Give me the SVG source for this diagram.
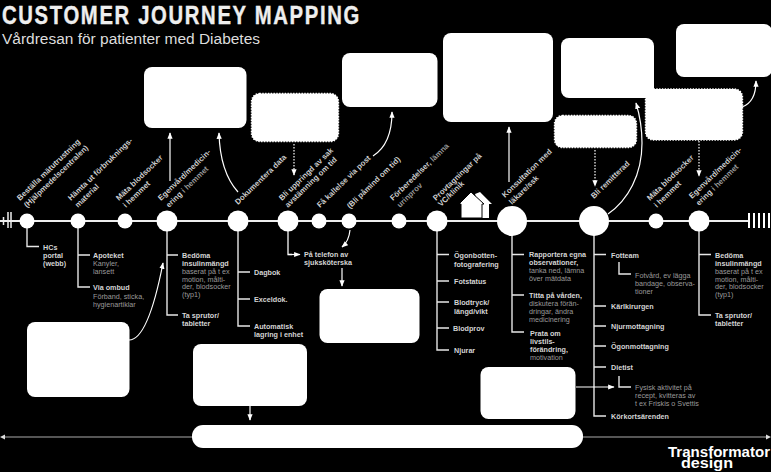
<svg xmlns="http://www.w3.org/2000/svg" width="771" height="472" viewBox="0 0 771 472">
<defs>
<marker id="ah" viewBox="0 0 10 10" refX="9" refY="5" markerWidth="6.500" markerHeight="6.500" markerUnits="userSpaceOnUse" orient="auto"><path d="M0 1L10 5L0 9Z" fill="#fff"/></marker>
</defs>
<style>
text{font-family:"Liberation Sans",Arial,sans-serif;fill:#d4d4d4;font-size:7.200px}
.b{font-weight:bold}
.g{fill:#9a9a9a}
.d{font-weight:bold;font-size:7.800px;fill:#cfcfcf}
.box{fill:#fff}
.dot{fill:#fff;stroke:#fff;stroke-width:1.4;stroke-dasharray:1.4 1.4}
.n{fill:#fff}
.t{fill:none;stroke:#e6e6e6;stroke-width:1.4}
.a{fill:none;stroke:#fff;stroke-width:1.2;marker-end:url(#ah)}
.ad{fill:none;stroke:#fff;stroke-width:1.2;stroke-dasharray:1.5 1.5;marker-end:url(#ah)}
</style>
<rect width="771" height="472" fill="#000"/>
<text transform="translate(2 23.500) scale(.78 1)" class="b" style="font-size:26px;fill:#eee;stroke:#eee;stroke-width:.4" textLength="458" lengthAdjust="spacing">CUSTOMER JOURNEY MAPPING</text>
<text x="2" y="43.500" style="font-size:15.500px;fill:#ddd" textLength="258" lengthAdjust="spacingAndGlyphs">Vårdresan för patienter med Diabetes</text>

<g id="connectors">
<path d="M0 221H749" fill="none" stroke="#eee" stroke-width="2"/>
<path d="M3.500 217V225M8 212V228M11 212V228" fill="none" stroke="#eee" stroke-width="1.500"/>
<path d="M749 213V228M754 213V228M759 213V228M764 213V228M769 213V228" fill="none" stroke="#fff" stroke-width="2"/>
<path d="M3 437H768" fill="none" stroke="#aaa" stroke-width="1.200"/>
<path d="M0 437L5 434.500V439.500ZM771 437L766 434.500V439.500Z" fill="#ddd"/>
<path class="t" d="M27 225V246.500H39"/>
<path class="t" d="M78 225V287H90M78 255H90"/>
<path class="t" d="M167 225V315H178M167 255H178"/>
<path class="t" d="M238 225V326H250M238 272H250M238 299H250"/>
<path class="t" d="M288 225V254.500H292"/>
<path class="t" d="M437 225V350H449M437 254.500H449M437 281H449M437 302H449M437 328H449"/>
<path class="t" d="M512 225V332H524M512 254.500H524M512 295H524"/>
<path class="t" d="M594 225V416H606M594 254.500H606M594 306H606M594 326H606M594 346H606M594 367H606"/>
<path class="t" d="M619 262V274H631M619 376V387H631"/>
<path class="t" d="M699 225V315H711M699 254.500H711"/>
<path class="a" d="M288 254.500H300"/>
<path class="a" d="M170 181V133"/>
<path class="a" d="M238 192Q220 172 219 133"/>
<path class="ad" d="M294 144V175"/>
<path class="a" d="M373 156Q392 144 392 112"/>
<path class="a" d="M509 182V127"/>
<path class="a" d="M608 214C628 200 642 175 642 143C642 128 640 116 636 103"/>
<path class="ad" d="M595 150V186"/>
<path class="ad" d="M699 141V176"/>
<path class="a" d="M742 107Q756 102 756 81"/>
<path class="a" d="M129 340Q148 340 163 263"/>
<path class="a" d="M350 230Q349 241 342 247"/>
<path class="a" d="M342 268V286"/>
<path class="a" d="M576 387H614"/>
<path class="a" d="M250 406V420"/>
</g>

<g id="box-1"><rect class="box" x="144" y="67" width="102.500" height="61" rx="8"/></g>
<g id="box-2"><rect class="dot" x="251.500" y="93.500" width="87" height="48" rx="8"/></g>
<g id="box-3"><rect class="box" x="342" y="53" width="95.500" height="54" rx="8"/></g>
<g id="box-4"><rect class="box" x="443" y="33" width="110" height="89" rx="8"/></g>
<g id="box-5"><rect class="box" x="561" y="38" width="93" height="60" rx="8"/></g>
<g id="box-6"><rect class="dot" x="554.500" y="115.500" width="82" height="32" rx="8"/></g>
<g id="box-7"><rect class="dot" x="645.500" y="89" width="97" height="51" rx="8"/></g>
<g id="box-8"><rect class="box" x="676" y="24" width="96" height="53" rx="8"/></g>
<g id="box-9"><rect class="box" x="27" y="322" width="102.500" height="75" rx="8"/></g>
<g id="box-10"><rect class="box" x="193" y="344" width="114" height="62" rx="8"/></g>
<g id="box-11"><rect class="box" x="319.500" y="289" width="100" height="54" rx="8"/></g>
<g id="box-12"><rect class="box" x="480.500" y="367" width="95" height="52" rx="8"/></g>
<g id="box-13"><rect class="box" x="192" y="425" width="391" height="23" rx="11"/></g>

<g id="node-1"><circle class="n" cx="27" cy="221" r="7.500"/>
<text class="d" transform="translate(20 201) rotate(-44)">Beställa mätutrustning</text>
<text class="d" transform="translate(27 208) rotate(-44)">(Hjälpmedelscentralen)</text>
<text class="b" x="43" y="250">HCs</text><text class="b" x="43" y="258">portal</text><text class="b" x="43" y="266">(webb)</text></g>

<g id="node-2"><circle class="n" cx="78" cy="221" r="7.500"/>
<text class="d" transform="translate(71 201) rotate(-44)">Hämta ut förbruknings-</text>
<text class="d" transform="translate(78 208) rotate(-44)">material</text>
<text class="b" x="93" y="258">Apoteket</text><text class="g" x="93" y="266">Kanyler,</text><text class="g" x="93" y="274">lansett</text>
<text class="b" x="93" y="290">Via ombud</text><text class="g" x="93" y="299">Förband, sticka,</text><text class="g" x="93" y="307">hygienartiklar</text></g>

<g id="node-3"><circle class="n" cx="125" cy="221" r="7.500"/>
<text class="d" transform="translate(119 201) rotate(-44)">Mäta blodsocker</text>
<text class="d" transform="translate(126 208) rotate(-44)">i hemmet</text></g>

<g id="node-4"><circle class="n" cx="167" cy="221" r="10.500"/>
<text class="d" transform="translate(161 201) rotate(-44)">Egenvård/medicin-</text>
<text class="d" transform="translate(169 208) rotate(-44)">ering <tspan class="g">i hemmet</tspan></text>
<text class="b" x="182" y="258">Bedöma</text><text class="b" x="182" y="266">insulinmängd</text><text class="g" x="182" y="274">baserat på t ex</text><text class="g" x="182" y="281.500">motion, målti-</text><text class="g" x="182" y="289">der, blodsocker</text><text class="g" x="182" y="297">(typ1)</text>
<text class="b" x="182" y="318">Ta sprutor/</text><text class="b" x="182" y="326">tabletter</text></g>

<g id="node-5"><circle class="n" cx="238" cy="221" r="10.500"/>
<text class="d" transform="translate(238 205) rotate(-44)">Dokumentera data</text>
<text class="b" x="254" y="275">Dagbok</text><text class="b" x="254" y="302">Exceldok.</text><text class="b" x="254" y="329">Automatisk</text><text class="b" x="254" y="337">lagring i enhet</text></g>

<g id="node-6"><circle class="n" cx="288" cy="221" r="10.500"/>
<text class="d" transform="translate(282 201) rotate(-44)">Bli uppringd av sak</text>
<text class="d" transform="translate(288 208) rotate(-44)">avstämning om tid</text>
<text class="b" x="304" y="257">På telefon av</text><text class="b" x="304" y="265">sjuksköterska</text></g>

<g id="node-7"><circle class="n" cx="319" cy="221" r="7.500"/>
<text class="d" transform="translate(320 208) rotate(-44)">Få kallelse via post</text></g>

<g id="node-8"><circle class="n" cx="349" cy="221" r="7.500"/>
<text class="d" transform="translate(350 209) rotate(-44)">(Bli påmind om tid)</text></g>

<g id="node-9"><circle class="n" cx="399" cy="221" r="7.500"/>
<text class="d" transform="translate(393 201) rotate(-44)">Förberedelser, <tspan class="g">lämna</tspan></text>
<text class="d g" style="fill:#9a9a9a" transform="translate(400 208) rotate(-44)">urinprov</text></g>

<g id="node-10"><circle class="n" cx="437" cy="221" r="10.500"/>
<text class="d" transform="translate(436 201) rotate(-44)">Provtagningar på</text>
<text class="d" transform="translate(441 207) rotate(-44)">VC/klinik</text>
<text class="b" x="454" y="258">Ögonbotten-</text><text class="b" x="454" y="267">fotografering</text><text class="b" x="454" y="284">Fotstatus</text><text class="b" x="454" y="305">Blodtryck/</text><text class="b" x="454" y="314">längd/vikt</text><text class="b" x="453" y="331">Blodprov</text><text class="b" x="454" y="353">Njurar</text></g>

<g id="house"><path class="n" d="M475 194L480 192L492 204H489V218H478V204Z"/><path class="n" stroke="#000" stroke-width="1" d="M459 204L471 192L484 204H482V218H461V204Z"/></g>

<g id="node-11"><circle class="n" cx="512" cy="221" r="15"/>
<text class="d" transform="translate(505 198) rotate(-44)">Konsultation med</text>
<text class="d" transform="translate(512 205) rotate(-44)">läkare/ssk</text>
<text class="b" x="529" y="257">Rapportera egna</text><text class="b" x="529" y="265">observationer,</text><text class="g" x="529" y="273">tanka ned, lämna</text><text class="g" x="529" y="281">över mätdata</text>
<text class="b" x="529" y="298">Titta på vården,</text><text class="g" x="529" y="306">diskutera förän-</text><text class="g" x="529" y="314">dringar, ändra</text><text class="g" x="529" y="322">medicinering</text>
<text class="b" x="530" y="336">Prata om</text><text class="b" x="530" y="344">livstils-</text><text class="b" x="530" y="352">förändring,</text><text class="g" x="530" y="360">motivation</text></g>

<g id="node-12"><circle class="n" cx="594" cy="221" r="15"/>
<text class="d" transform="translate(594 199) rotate(-44)">Bli remitterad</text>
<text class="b" x="611" y="258">Fotteam</text><text class="b" x="611" y="309">Kärlkirurgen</text><text class="b" x="611" y="329">Njurmottagning</text><text class="b" x="611" y="349">Ögonmottagning</text><text class="b" x="611" y="370">Dietist</text><text class="b" x="611" y="419">Körkortsärenden</text>
<text class="g" x="635" y="278">Fotvård, ev lägga</text><text class="g" x="635" y="286">bandage, observa-</text><text class="g" x="635" y="294">tioner</text>
<text class="g" x="635" y="390">Fysisk aktivitet på</text><text class="g" x="635" y="398">recept, kvitteras av</text><text class="g" x="635" y="406">t ex Friskis o Svettis</text></g>

<g id="node-13"><circle class="n" cx="656" cy="221" r="7.500"/>
<text class="d" transform="translate(650 201) rotate(-44)">Mäta blodsocker</text>
<text class="d" transform="translate(657 208) rotate(-44)">i hemmet</text></g>

<g id="node-14"><circle class="n" cx="699" cy="221" r="10.500"/>
<text class="d" transform="translate(692 199) rotate(-44)">Egenvård/medicin-</text>
<text class="d" transform="translate(699 206) rotate(-44)">ering <tspan class="g">i hemmet</tspan></text>
<text class="b" x="715" y="258">Bedöma</text><text class="b" x="715" y="266">insulinmängd</text><text class="g" x="715" y="274">baserat på t ex</text><text class="g" x="715" y="281.500">motion, målti-</text><text class="g" x="715" y="289">der, blodsocker</text><text class="g" x="715" y="297">(typ1)</text>
<text class="b" x="715" y="318">Ta sprutor/</text><text class="b" x="715" y="326">tabletter</text></g>

<g id="logo"><text x="668" y="457" class="b" style="font-size:14px;fill:#fff" textLength="102" lengthAdjust="spacingAndGlyphs">Transformator</text><text x="681" y="468" class="b" style="font-size:14px;fill:#fff" textLength="52" lengthAdjust="spacingAndGlyphs">design</text></g>
</svg>
